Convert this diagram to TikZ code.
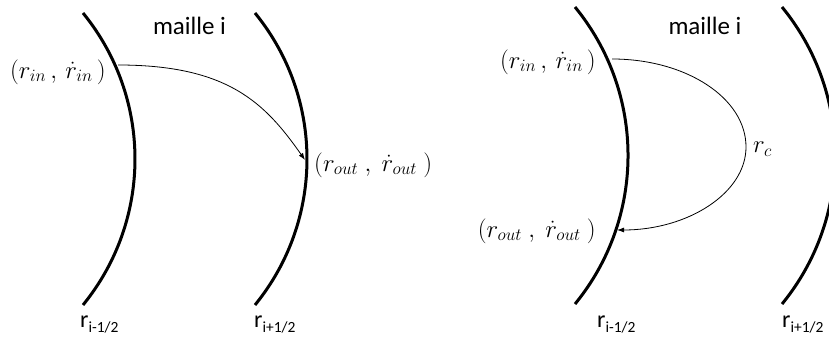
\documentclass[tikz,border=0pt]{standalone}
\usepackage{fontspec}
\setmainfont{Carlito}
\usetikzlibrary{arrows.meta}
\newcommand\rsublab[1]{r\raisebox{-4.5pt}{\fontsize{15.5}{15.5}\selectfont #1}}
\begin{document}
\begin{tikzpicture}[x=1pt,y=1pt,
  wall/.style={line width=3pt},
  traj/.style={line width=0.8pt,-{Latex[length=7pt,width=5pt]}},
  lab/.style={inner sep=0pt,font=\fontsize{24}{28}\selectfont},
  mlab/.style={inner sep=0pt,font=\fontsize{23}{27}\selectfont}]
\useasboundingbox (0,0) rectangle (829,342);
\clip (0,0) rectangle (829,342);
% ---------- left figure ----------
\draw[wall] (83,329) arc[start angle=39.2, end angle=-39.2, radius=231];
\draw[wall] (255,329) arc[start angle=39.2, end angle=-39.2, radius=231];
\node[lab, font=\fontsize{25}{29}\selectfont, anchor=base] (mailleL) at (189.5,307) {maille i};
\node[lab, anchor=base west] (rmL) at (80,14) {\rsublab{i-1/2}};
\node[lab, anchor=base west] (rpL) at (254,14) {\rsublab{i+1/2}};
\node[mlab, anchor=east] (inLlab) at (106,270) {$(r_{in}\,,\,\dot r_{in}\,)$};
\node[mlab, anchor=west] (outLlab) at (314,177) {$(r_{out}\mkern4.5mu,\mkern4.5mu\dot r_{out}\mkern4.5mu)$};
\coordinate (inL) at (118,277);
\coordinate (outL) at (305,182);
\draw[traj] (inL) .. controls (228,277) and (265,239) .. (outL);
% ---------- right figure ----------
\draw[wall] (575,335) arc[start angle=39.3, end angle=-39.3, radius=234.5];
\draw[wall] (782,335) arc[start angle=39.3, end angle=-39.3, radius=234.5];
\node[lab, font=\fontsize{25}{29}\selectfont, anchor=base] (mailleR) at (705,307) {maille i};
\node[lab, anchor=base west] (rmR) at (597,14) {\rsublab{i-1/2}};
\node[lab, anchor=base west] (rpR) at (782,14) {\rsublab{i+1/2}};
\node[mlab, anchor=east] (inRlab) at (596,280) {$(r_{in}\,,\,\dot r_{in}\,)$};
\node[mlab, anchor=east] (outRlab) at (596,111) {$(r_{out}\mkern4.5mu,\mkern4.5mu\dot r_{out}\mkern4.5mu)$};
\node[mlab, anchor=west] (rc) at (753,193) {$r_c$};
\coordinate (inR) at (612,283);
\coordinate (cR) at (746,195);
\coordinate (outR) at (617,112);
\draw[traj] (inR) .. controls (686,283) and (746,244) .. (cR)
               .. controls (746,149) and (688,112) .. (outR);
\end{tikzpicture}
\end{document}
